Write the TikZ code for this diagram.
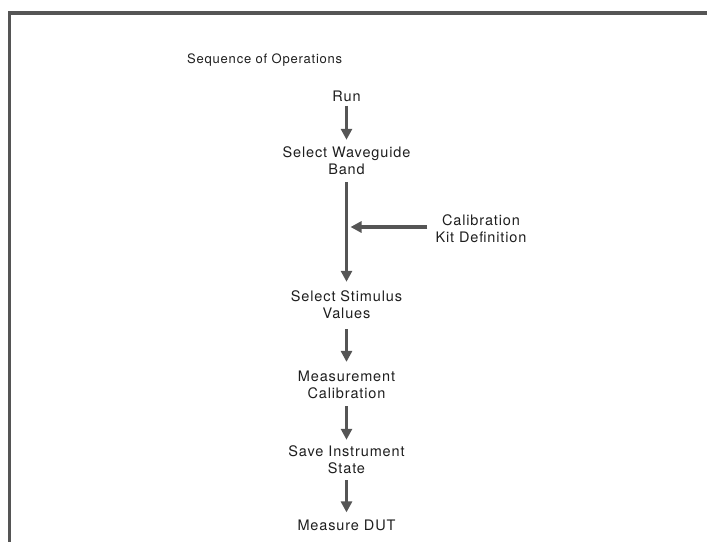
\documentclass[tikz,border=0pt]{standalone}
\usepackage{fontspec}
\setmainfont[LetterSpace=6]{TeX Gyre Heros}
\usepackage{tikz}
\usetikzlibrary{arrows.meta}

\definecolor{ink}{HTML}{1E1E1E}
\definecolor{linegray}{HTML}{555555}

\tikzset{
    stage/.style={align=center, text=ink, inner sep=1pt,
        font=\fontsize{14.5}{17}\selectfont},
    shaft/.style={draw=linegray, line width=3.2pt},
    flow/.style={shaft, -{Triangle[width=11pt,length=11pt]}},
    frameline/.style={draw=linegray, line width=3.5pt},
}

\begin{document}
\begin{tikzpicture}[x=1pt,y=-1pt]
        \useasboundingbox (0,0) rectangle (707,542);
        % frame, only top and left edges show
        \coordinate (ftl) at (9.5,13);
        \coordinate (ftr) at (707,13);
        \coordinate (fbl) at (9.5,542);
        \draw[frameline] (ftr) -- (ftl) -- (fbl);

        \node[anchor=west, text=ink, inner sep=0pt,
            font=\fontsize{13}{15}\selectfont] (title) at (187,60) {Sequence of Operations};

        \node[stage] (run) at (346.5,96) {Run};
        \node[stage] (band) at (346.5,161) {Select Waveguide\\Band};
        \node[stage] (kit) at (481,229) {Calibration\\Kit Definition};
        \node[stage] (stim) at (346.5,305) {Select Stimulus\\Values};
        \node[stage] (meas) at (346.5,385) {Measurement\\Calibration};
        \node[stage] (save) at (346.5,460) {Save Instrument\\State};
        \node[stage] (dut) at (346.5,525) {Measure DUT};

        % joint where the kit arrow meets the main line
        \coordinate (join) at (346.5,227);

        \draw[flow, shorten <=3pt, shorten >=6pt] (run.south) -- (band.north);
        \draw[shaft, shorten <=6pt] (band.south) -- (join);
        \draw[flow, shorten >=8pt] (join) -- (stim.north);
        \draw[flow, shorten <=7pt, shorten >=4pt] (kit.west |- join) -- (join);
        \draw[flow, shorten <=9pt, shorten >=8pt] (stim.south) -- (meas.north);
        \draw[flow, shorten <=6pt, shorten >=5pt] (meas.south) -- (save.north);
        \draw[flow, shorten <=5pt, shorten >=6pt] (save.south) -- (dut.north);
\end{tikzpicture}
\end{document}
